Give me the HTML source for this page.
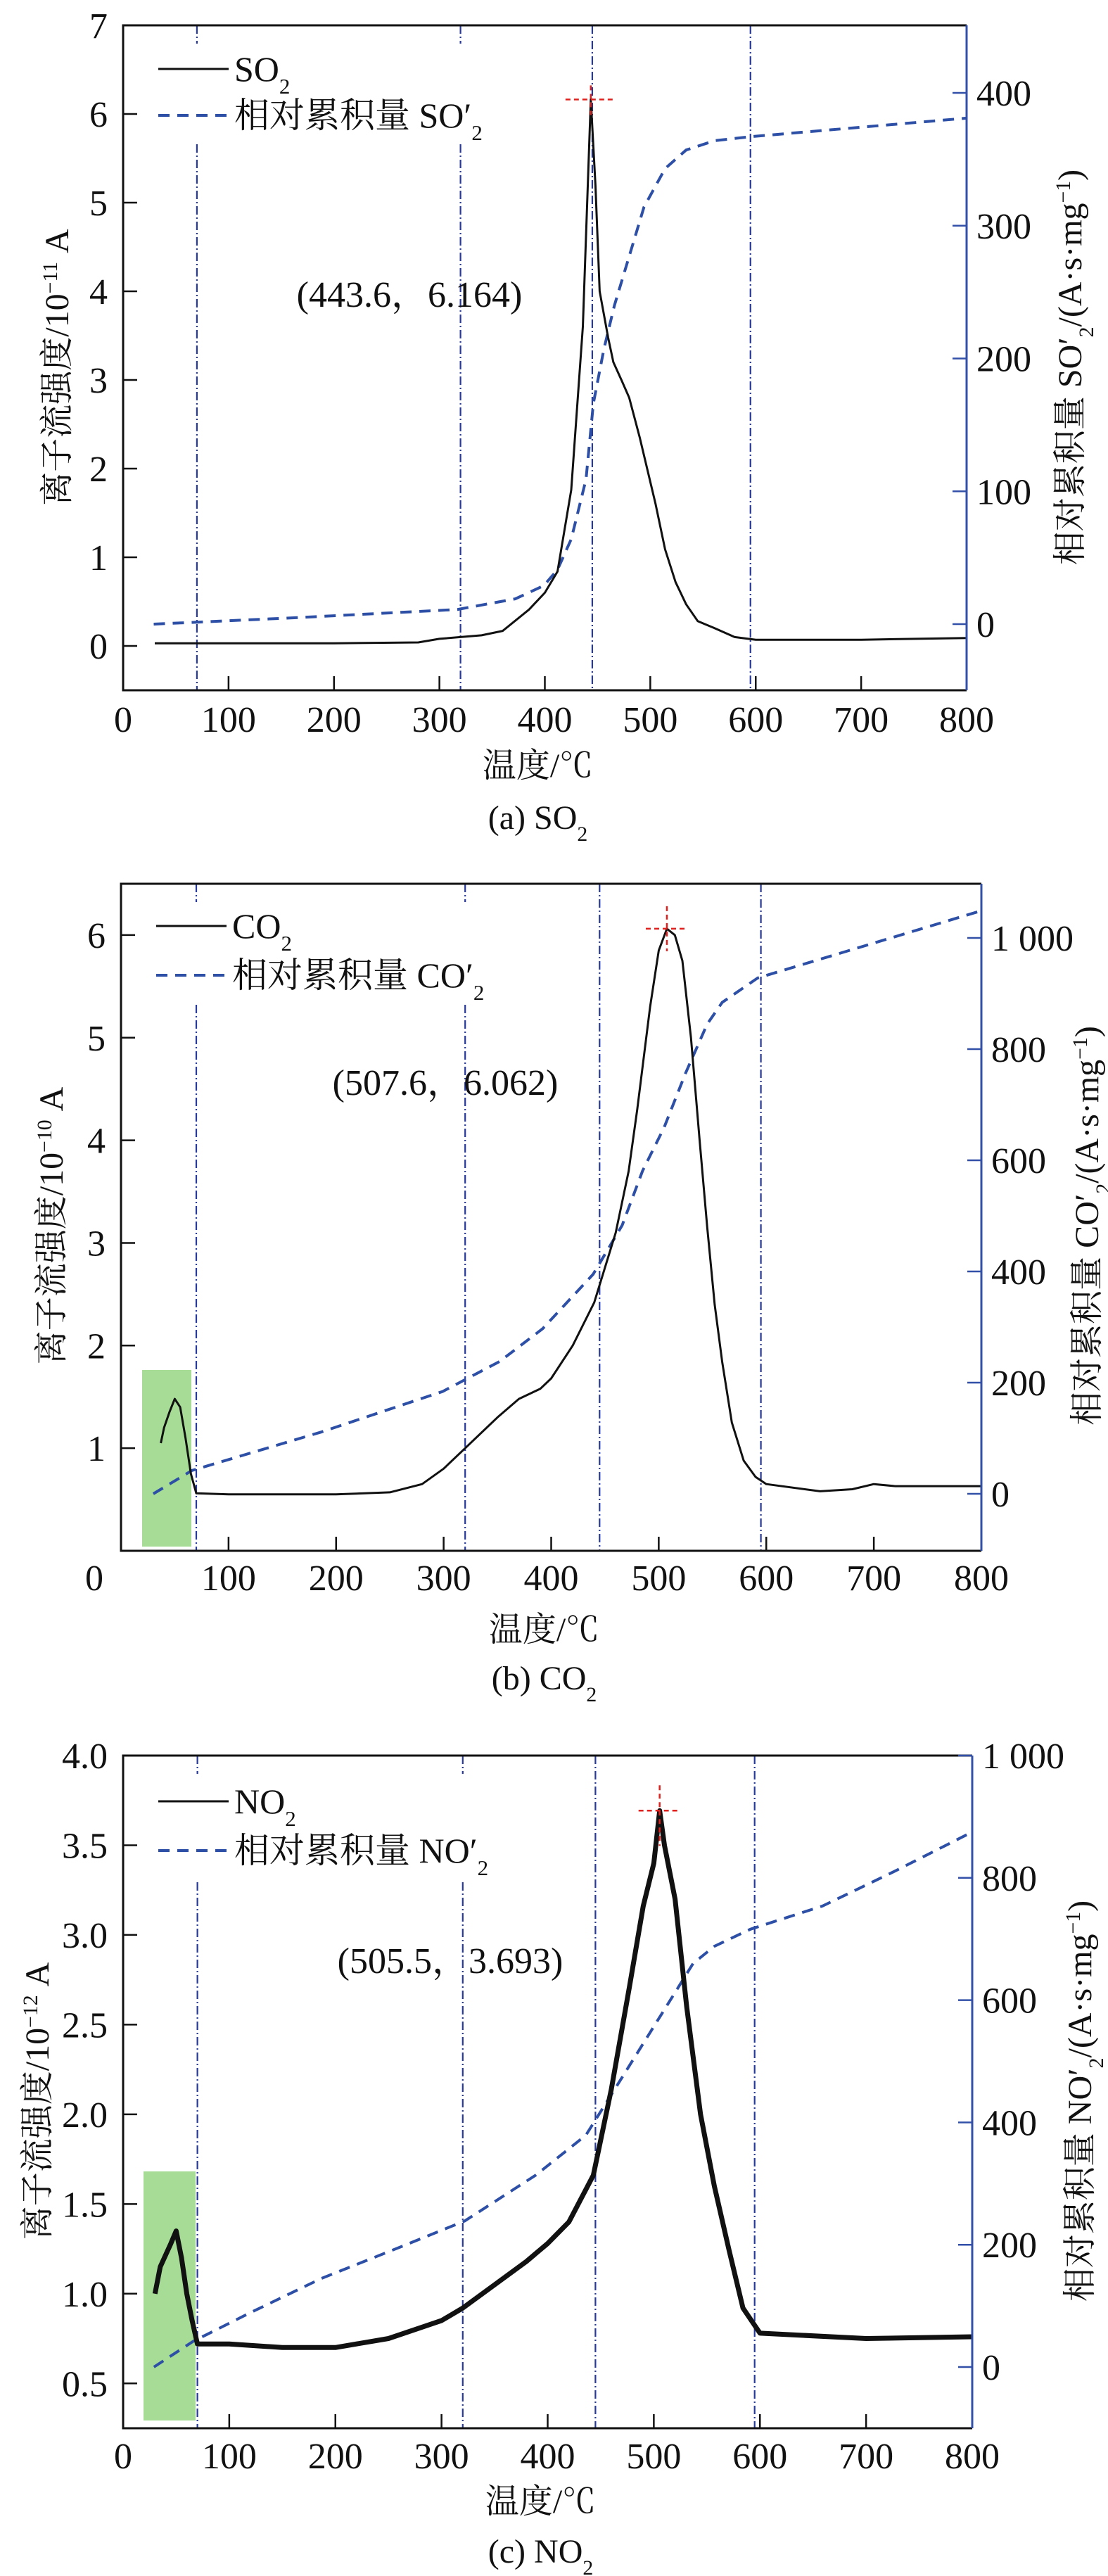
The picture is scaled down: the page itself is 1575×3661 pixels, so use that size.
<!DOCTYPE html>
<html><head><meta charset="utf-8">
<style>
html,body{margin:0;padding:0;background:#fff;}
svg{display:block;font-family:"Liberation Serif","Noto Serif CJK SC","Noto Sans CJK SC",serif;}
</style></head>
<body>
<svg id="fig" width="1575" height="3661" viewBox="0 0 1575 3661" xmlns="http://www.w3.org/2000/svg"></svg>
<script>
// ---------- data (a) SO2 ----------
const so2Temp = [30,100,200,280,300,340,360,385,400,412,425,436,443.6,448,452,460,465,473,480,490,497,505,514,524,528,534,545,561,580,600,700,800];
const so2Ion  = [0.03,0.03,0.03,0.04,0.08,0.12,0.17,0.41,0.6,0.84,1.76,3.6,6.164,5.2,4.0,3.48,3.2,2.99,2.8,2.35,2.0,1.6,1.09,0.72,0.62,0.47,0.28,0.2,0.1,0.07,0.07,0.09];
const so2CumTemp = [29,155,317,372,399,412,425,439,446,456,466,480,494,514,534,561,595,800];
const so2Cum     = [0,4.5,11,19,29,41,64,109,166,207,240,277,314,343,357,364,367,381];
// ---------- data (b) CO2 ----------
const co2Temp = [37,40,45,50,55,60,65,70,100,200,250,280,300,320,350,370,390,400,420,440,460,472,480,492,500,507.6,515,522,530,538,545,552,559,568,579,590,600,650,680,700,720,800];
const co2Ion  = [1.05,1.2,1.35,1.48,1.4,1.1,0.75,0.56,0.55,0.55,0.57,0.65,0.8,1.0,1.3,1.48,1.58,1.68,2.0,2.42,3.1,3.7,4.3,5.3,5.85,6.062,6.0,5.75,5.0,4.0,3.16,2.4,1.84,1.25,0.88,0.72,0.65,0.58,0.6,0.65,0.63,0.63];
const co2CumTemp = [30,66,186,299,352,392,439,466,485,505,525,545,559,592,685,800];
const co2Cum     = [0,42,111,184,238,297,395,483,581,659,757,845,884,928,982,1049];
// ---------- data (c) NO2 ----------
const no2Temp = [30,35,45,50,55,60,65,70,100,150,200,250,300,320,350,380,400,420,443,460,477,490,500,505.5,510,520,531,544,557,571,584,600,700,800];
const no2Ion  = [1.0,1.15,1.28,1.35,1.2,1.0,0.85,0.72,0.72,0.7,0.7,0.75,0.85,0.92,1.05,1.18,1.28,1.4,1.66,2.14,2.71,3.16,3.4,3.693,3.5,3.2,2.6,2.0,1.6,1.24,0.92,0.78,0.75,0.76];
const no2CumTemp = [29,66,120,187,255,322,389,436,463,490,517,537,557,591,659,726,800];
const no2Cum     = [0,42,89,145,192,239,314,379,454,529,604,660,688,716,754,810,875];
// ---------- ticks ----------
const xTicks = [0,100,200,300,400,500,600,700,800];
const vLines = [70,320,445,595];

const NS='http://www.w3.org/2000/svg';
const svg=document.getElementById('fig');
function el(tag,attrs,parent){const e=document.createElementNS(NS,tag);for(const k in attrs)e.setAttribute(k,attrs[k]);(parent||svg).appendChild(e);return e;}
function tspans(t,parts){parts.forEach(p=>{const s=document.createElementNS(NS,'tspan');s.textContent=p[0];if(p[1]==='sub'){s.setAttribute('baseline-shift','sub');s.setAttribute('font-size','0.62em');}if(p[1]==='sup'){s.setAttribute('baseline-shift','super');s.setAttribute('font-size','0.62em');}t.appendChild(s);});}

function chart(c){
  const g=el('g',{});
  
  
  const X=v=>c.L+(v-0)/800*(c.R-c.L);
  const YL=v=>c.B-(v-c.yl0)/(c.yl1-c.yl0)*(c.B-c.T);
  const YR=v=>c.r0y+(v)/c.rRef*(c.rRefY-c.r0y);
  // green highlight
  if(c.green){const r=el('rect',{x:c.green[0],y:c.green[1],width:c.green[2]-c.green[0],height:c.green[3]-c.green[1],fill:'#a6dc95'},g);
    
    }
  // vertical dash-dot lines
  vLines.forEach((t,i)=>{
    const x=X(t);
    if(i<2){
      const a=el('line',{x1:x,x2:x,y1:c.T,y2:c.T+26,stroke:'#27399a','stroke-width':2.2,'stroke-dasharray':'12 4 2 4'},g);
      
      
      const b=el('line',{x1:x,x2:x,y1:c.gap,y2:c.B,stroke:'#27399a','stroke-width':2.2,'stroke-dasharray':'12 4 2 4'},g);
      
      
    } else {
      const b=el('line',{x1:x,x2:x,y1:c.T,y2:c.B,stroke:'#27399a','stroke-width':2.2,'stroke-dasharray':'12 4 2 4'},g);
      
      
    }
  });
  // cumulative dashed
  let d=c.cumT.map((t,i)=>(i?'L':'M')+X(t).toFixed(1)+' '+YR(c.cum[i]).toFixed(1)).join(' ');
  const p2=el('path',{d:d,fill:'none',stroke:'#2d4fa6','stroke-width':4,'stroke-dasharray':'16 11'},g);
  
  
  // ion curve
  d=c.ionT.map((t,i)=>(i?'L':'M')+X(t).toFixed(1)+' '+YL(c.ion[i]).toFixed(1)).join(' ');
  const p1=el('path',{d:d,fill:'none',stroke:'#111','stroke-width':c.ionW,'stroke-linejoin':'round'},g);
  
  
  // peak marker
  const pk=c.peak, px=X(pk[0]), py=YL(pk[1]);
  const h=el('line',{x1:px-c.mk[0],x2:px+c.mk[0],y1:py,y2:py,stroke:'#e0201c','stroke-width':2.5,'stroke-dasharray':'7 5'},g);
  
  
  const v=el('line',{x1:px,x2:px,y1:py-c.mk[1],y2:py+c.mk[2],stroke:'#e0201c','stroke-width':2.5,'stroke-dasharray':'7 5'},g);
  
  
  // frame
  const f=el('path',{d:`M${c.R} ${c.T} L${c.L} ${c.T} L${c.L} ${c.B} L${c.R} ${c.B}`,fill:'none',stroke:'#111','stroke-width':3},g);
  
  
  const ra=el('line',{x1:c.R,x2:c.R,y1:c.T,y2:c.B,stroke:'#3350a8','stroke-width':3},g);
  
  
  // x ticks
  xTicks.forEach(t=>{
    const x=X(t);
    if(t>0&&t<800){const tk=el('line',{x1:x,x2:x,y1:c.B,y2:c.B-20,stroke:'#111','stroke-width':2.5},g);
      
      }
    const lx=(t===0&&c.zeroX)?c.zeroX:x;
    const tx=el('text',{x:lx,y:c.xLabY,'font-size':52,'text-anchor':'middle',fill:'#111'},g);
    tx.textContent=t;
    
    
  });
  // left ticks
  c.lTicks.forEach(t=>{
    const y=YL(t);
    const tk=el('line',{x1:c.L,x2:c.L+20,y1:y,y2:y,stroke:'#111','stroke-width':2.5},g);
    
    
    const tx=el('text',{x:c.L-22,y:y+18,'font-size':52,'text-anchor':'end',fill:'#111'},g);
    tx.textContent=t.toFixed(c.lDec);
    
    
  });
  c.rTicks.forEach(t=>{
    const y=YR(t);
    const tk=el('line',{x1:c.R,x2:c.R-20,y1:y,y2:y,stroke:'#3350a8','stroke-width':2.5},g);
    
    
    const tx=el('text',{x:c.R+14,y:y+18,'font-size':52,fill:'#111'},g);
    tx.textContent=t>=1000?'1 000':String(t);
    
    
  });
  // legend
  const l1=el('line',{x1:c.L+50,x2:c.L+150,y1:c.leg[0],y2:c.leg[0],stroke:'#111','stroke-width':3},g);
  
  
  const t1=el('text',{x:c.L+158,y:c.leg[0]+17,'font-size':50,fill:'#111'},g);
  tspans(t1,[[c.gas],['2','sub']]);
  
  
  const l2=el('line',{x1:c.L+50,x2:c.L+150,y1:c.leg[1],y2:c.leg[1],stroke:'#2d4fa6','stroke-width':4,'stroke-dasharray':'16 11'},g);
  
  
  const t2=el('text',{x:c.L+158,y:c.leg[1]+17,'font-size':50,fill:'#111'},g);
  tspans(t2,[['相对累积量 '+c.gas+'′'],['2','sub']]);
  
  
  // annotation
  const an=el('text',{x:c.ann[0],y:c.ann[1]+18,'font-size':52,'text-anchor':'middle',fill:'#111'},g);
  an.textContent=c.annText;
  
  
  // axis titles
  const lt=el('text',{x:0,y:0,'font-size':48,'text-anchor':'middle',fill:'#111',transform:`translate(${c.lTitle[0]+16},${c.lTitle[1]}) rotate(-90)`},g);
  tspans(lt,[['离子流强度/10'],[c.exp,'sup'],[' A']]);
  
  
  const rt=el('text',{x:0,y:0,'font-size':48,'text-anchor':'middle',fill:'#111',transform:`translate(${c.rTitle[0]+16},${c.rTitle[1]}) rotate(-90)`},g);
  tspans(rt,[['相对累积量 '+c.gas+'′'],['2','sub'],['/(A·s·mg'],['−1','sup'],[')']]);
  
  
  const xt=el('text',{x:(c.L+c.R)/2-10,y:c.xTitleY+17,'font-size':48,'text-anchor':'middle',fill:'#111'},g);
  xt.textContent='温度/℃';
  
  
  const cp=el('text',{x:(c.L+c.R)/2-10,y:c.capY+17,'font-size':48,'text-anchor':'middle',fill:'#111'},g);
  tspans(cp,[[c.capLetter+' '+c.gas],['2','sub']]);
  
  
}

chart({id:'so2',gas:'SO',exp:'−11',capLetter:'(a)',L:175,R:1374,T:36,B:981,yl0:-0.5,yl1:7,r0y:887,rRef:400,rRefY:132,
  ionT:so2Temp,ion:so2Ion,cumT:so2CumTemp,cum:so2Cum,ionW:3,peak:[443.6,6.164],mk:[36,20,22],
  lTicks:[0,1,2,3,4,5,6,7],lDec:0,rTicks:[0,100,200,300,400],gap:205,
  xLabY:1040,xTitleY:1087,capY:1161,leg:[98,164],ann:[582,418],annText:'(443.6，6.164)',
  lTitle:[81,522],rTitle:[1521,522]});
chart({id:'co2',gas:'CO',exp:'−10',capLetter:'(b)',L:172,R:1395,T:1256,B:2204,yl0:0,yl1:6.5,r0y:2123,rRef:1000,rRefY:1333,
  ionT:co2Temp,ion:co2Ion,cumT:co2CumTemp,cum:co2Cum,ionW:3,peak:[507.6,6.062],mk:[30,32,32],green:[202,1947,272,2198],
  lTicks:[1,2,3,4,5,6],lDec:0,rTicks:[0,200,400,600,800,1000],gap:1428,zeroX:134,
  xLabY:2260,xTitleY:2315,capY:2384,leg:[1316,1386],ann:[633,1538],annText:'(507.6，6.062)',
  lTitle:[73,1742],rTitle:[1545,1742]});
chart({id:'no2',gas:'NO',exp:'−12',capLetter:'(c)',L:175,R:1382,T:2495,B:3451,yl0:0.25,yl1:4.0,r0y:3364,rRef:1000,rRefY:2495,
  ionT:no2Temp,ion:no2Ion,cumT:no2CumTemp,cum:no2Cum,ionW:7,peak:[505.5,3.693],mk:[30,36,50],green:[204,3086,278,3440],
  lTicks:[0.5,1.0,1.5,2.0,2.5,3.0,3.5,4.0],lDec:1,rTicks:[0,200,400,600,800,1000],gap:2675,
  xLabY:3508,xTitleY:3554,capY:3625,leg:[2560,2630],ann:[640,2786],annText:'(505.5，3.693)',
  lTitle:[53,2986],rTitle:[1535,2986]});
</script>
</body></html>
